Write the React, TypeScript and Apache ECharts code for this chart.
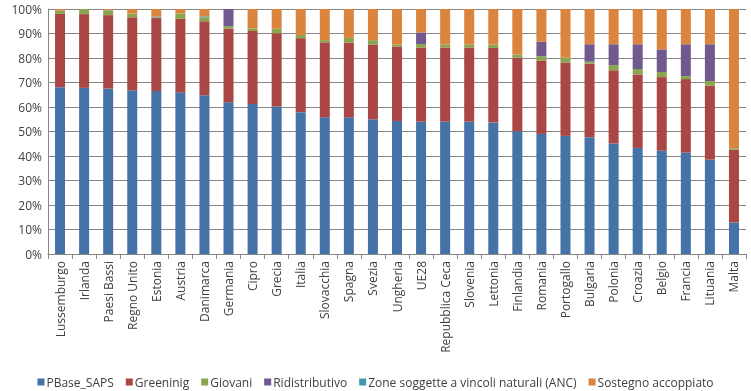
import React, { useEffect, useRef } from "react";
import * as echarts from "echarts";

const categories = ["Lussemburgo","Irlanda","Paesi Bassi","Regno Unito","Estonia","Austria","Danimarca","Germania","Cipro","Grecia","Italia","Slovacchia","Spagna","Svezia","Ungheria","UE28","Repubblica Ceca","Slovenia","Lettonia","Finlandia","Romania","Portogallo","Bulgaria","Polonia","Croazia","Belgio","Francia","Lituania","Malta"];

const pbaseSaps = [68.1,67.8,67.5,66.8,66.5,66.0,64.8,61.9,61.2,60.2,57.9,55.8,55.8,55.0,54.3,54.0,54.0,54.0,53.7,50.1,49.0,48.2,47.7,45.1,43.3,42.2,41.4,38.5,12.9];
const greening = [29.9,30.1,30.0,29.8,29.8,30.0,30.2,30.1,29.8,29.9,30.2,30.6,30.5,30.5,30.4,30.3,30.3,30.3,30.4,30.0,30.0,30.0,30.0,29.9,30.0,30.0,30.0,30.2,29.7];
const giovani = [1.3,2.1,1.8,1.6,0.3,2.2,1.6,1.0,1.0,1.9,1.3,0.9,1.9,1.8,0.8,1.4,1.2,1.2,1.4,1.3,1.7,1.9,0.8,2.1,2.2,2.1,1.2,1.9,0.6];
const ridistributivo = [0,0,0,0,0,0,0,7.0,0,0,0,0,0,0,0,4.7,0,0,0,0,5.9,0,7.1,8.5,10.1,9.2,13.0,15.0,0];
const anc = [0,0,0.2,0,0.3,0,0.4,0,0,0,0,0,0,0,0,0,0,0,0,0,0,0,0,0,0,0,0,0,0];
const sostegno = [0.7,0,0.5,1.8,3.1,1.8,3.0,0,8.0,8.0,10.6,12.7,11.8,12.7,14.5,9.6,14.5,14.5,14.5,18.6,13.4,19.9,14.4,14.4,14.4,16.5,14.4,14.4,56.8];

const seriesNames = ["PBase_SAPS","Greeninig","Giovani","Ridistributivo","Zone soggette a vincoli naturali (ANC)","Sostegno accoppiato"];
const seriesData = [pbaseSaps, greening, giovani, ridistributivo, anc, sostegno];
const colors = ["#4572A7","#AA4643","#89A54E","#71588F","#4198AF","#DB843D"];

export default function App() {
  const ref = useRef<HTMLDivElement>(null);
  useEffect(() => {
    if (!ref.current) return;
    const chart = echarts.init(ref.current, undefined, { renderer: "svg" });
    const font = "'Open Sans', sans-serif";
    chart.setOption({
      animation: false,
      color: colors,
      textStyle: { fontFamily: font },
      grid: { left: 48, right: 5, top: 9, bottom: 137, containLabel: false },
      legend: {
        top: 371,
        left: "center",
        icon: "rect",
        itemWidth: 7,
        itemHeight: 7,
        itemGap: 12,
        textStyle: { fontSize: 12, color: "#404040", fontFamily: font, padding: [0, 0, 0, -3] },
        data: seriesNames,
      },
      xAxis: {
        type: "category",
        data: categories,
        axisLine: { show: true, lineStyle: { color: "#868686" } },
        axisTick: { show: true, length: 5, lineStyle: { color: "#868686" }, alignWithLabel: false },
        axisLabel: { rotate: 90, fontSize: 12, color: "#404040", margin: 7, interval: 0, fontFamily: font },
      },
      yAxis: {
        type: "value",
        min: 0,
        max: 100,
        interval: 10,
        axisLine: { show: true, lineStyle: { color: "#868686" } },
        axisTick: { show: false },
        splitLine: { show: true, lineStyle: { color: "#868686", width: 1 } },
        axisLabel: { formatter: "{value}%", fontSize: 12, color: "#404040", margin: 6, fontFamily: font },
      },
      series: seriesNames.map((name, i) => ({
        name,
        type: "bar",
        stack: "total",
        barWidth: 10,
        data: seriesData[i],
        itemStyle: { color: colors[i] },
      })),
    });
    return () => chart.dispose();
  }, []);
  return <div ref={ref} style={{ position: "fixed", left: 0, top: 0, width: 751, height: 391 }} />;
}
